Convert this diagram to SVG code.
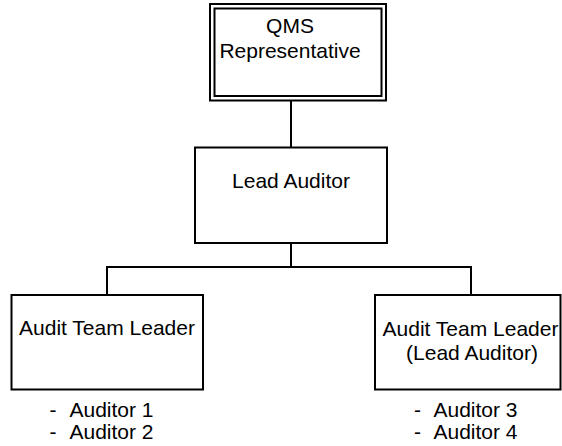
<svg xmlns="http://www.w3.org/2000/svg" width="562" height="446" viewBox="0 0 562 446">
<style>
.box{fill:#fff;stroke:#000;stroke-width:2}
.ln{fill:none;stroke:#000;stroke-width:2}
text{font-family:"Liberation Sans",Arial,sans-serif;font-size:21px;fill:#000}
.c{text-anchor:middle}
</style>
<rect width="562" height="446" fill="#fff"/>
<g id="connectors">
<line class="ln" x1="291" y1="100" x2="291" y2="147"/>
<line class="ln" x1="291" y1="243" x2="291" y2="267"/>
<line class="ln" x1="106" y1="267" x2="472" y2="267"/>
<line class="ln" x1="107" y1="267" x2="107" y2="295"/>
<line class="ln" x1="471" y1="267" x2="471" y2="295"/>
</g>
<g id="qms">
<rect class="box" x="210" y="4" width="176" height="96.5"/>
<rect class="box" x="214.5" y="8.5" width="167" height="87.5"/>
<text class="c" x="290" y="33">QMS</text>
<text class="c" x="290" y="58">Representative</text>
</g>
<g id="lead">
<rect class="box" x="195" y="147.5" width="192" height="95.5"/>
<text class="c" x="291" y="188">Lead Auditor</text>
</g>
<g id="team1">
<rect class="box" x="11.5" y="295" width="191.5" height="94.5"/>
<text class="c" x="107" y="335">Audit Team Leader</text>
<text x="49.5" y="417">-</text><text x="69.5" y="417">Auditor 1</text>
<text x="49.5" y="439">-</text><text x="69.5" y="439">Auditor 2</text>
</g>
<g id="team2">
<rect class="box" x="375" y="295" width="185.5" height="94.5"/>
<text class="c" x="470.5" y="335.5">Audit Team Leader</text>
<text class="c" x="472" y="360">(Lead Auditor)</text>
<text x="414" y="417">-</text><text x="433.5" y="417">Auditor 3</text>
<text x="414" y="439">-</text><text x="433.5" y="439">Auditor 4</text>
</g>
</svg>
